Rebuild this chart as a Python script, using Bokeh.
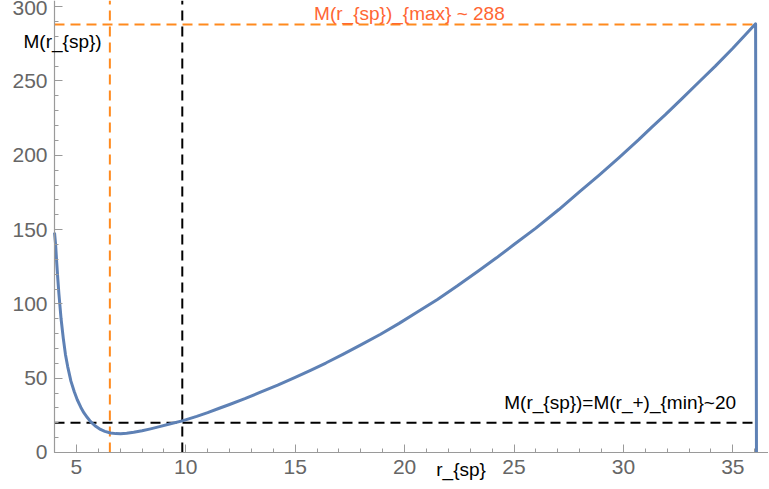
from bokeh.plotting import figure
from bokeh.models import Label, SingleIntervalTicker, Range1d
from bokeh.embed import file_html
from bokeh.resources import INLINE

# ---- data ----
r_sp = [4.0, 4.05, 4.1, 4.15, 4.2, 4.3, 4.4, 4.5, 4.6, 4.75, 4.9, 5.04,
        5.2, 5.34, 5.5, 5.65, 5.85, 6.1, 6.3, 6.56, 6.8, 7.02, 7.3, 7.62,
        8.0, 8.39, 8.8, 9.3, 9.84, 10.5, 11.0, 11.5, 12.0, 12.7, 13.36,
        14.2, 15.0, 15.7, 16.4, 17.2, 18.0, 18.9, 19.75, 20.6, 21.5, 22.4,
        23.4, 24.2, 25.0, 26.0, 27.05, 28.0, 28.88, 29.8, 30.7, 31.3, 31.93,
        32.7, 33.5, 34.2, 35.0, 35.5, 36.04, 36.08]
mass = [148, 140, 128, 117, 107, 90, 77, 66, 58, 48, 41, 35.5,
        30.5, 26.8, 23.5, 20.8, 18.0, 15.5, 14.2, 13.1, 12.7, 12.6, 12.9, 13.6,
        14.6, 15.9, 17.4, 19.3, 21.3, 24.3, 26.8, 29.6, 32.3, 36.2, 40.3,
        45.3, 50.5, 55.3, 60.2, 66.2, 72.4, 79.6, 86.9, 94.7, 103.0, 112.0,
        122.5, 131.0, 140.0, 151.0, 163.5, 175.5, 186.5, 198.5, 210.5, 219.0, 227.5,
        238.5, 250.0, 260.0, 272.0, 280.0, 288.5, 0.0]

r_min_line = 6.53      # orange vertical
r_cross_line = 9.84    # black vertical
m_max = 288            # orange horizontal
m_min = 20             # black horizontal

x_ticks_interval = 5
y_ticks_interval = 50

label_y = "M(r_{sp})"
label_x = "r_{sp}"
label_max = "M(r_{sp})_{max} ~ 288"
label_min = "M(r_{sp})=M(r_+)_{min}~20"

FONT = "Liberation Sans"
AXIS_COL = "#9a9a9a"
TICK_TXT = "#666666"
BLUE = "#5E81B5"
ORANGE = "#FF8A1E"
ORANGE_TXT = "#FF6633"

X0, X1 = 1.532, 36.63
Y0, Y1 = -24.23, 304.17

p = figure(width=768, height=488, output_backend="svg", toolbar_location=None,
           x_range=Range1d(X0, X1), y_range=Range1d(Y0, Y1),
           min_border=0, min_border_left=0, min_border_bottom=0,
           min_border_top=0, min_border_right=0)
p.outline_line_color = None
p.xgrid.visible = False
p.ygrid.visible = False
p.background_fill_color = "white"
p.border_fill_color = "white"

p.xaxis.ticker = SingleIntervalTicker(interval=x_ticks_interval, num_minor_ticks=5)
p.yaxis.ticker = SingleIntervalTicker(interval=y_ticks_interval, num_minor_ticks=5)
p.xaxis.fixed_location = 0
p.yaxis.fixed_location = 4.0
p.xaxis.bounds = (4.0, X1)
p.yaxis.bounds = (0, Y1)
for ax in (p.xaxis, p.yaxis):
    ax.axis_line_color = AXIS_COL
    ax.axis_line_width = 1.2
    ax.major_tick_line_color = AXIS_COL
    ax.minor_tick_line_color = AXIS_COL
    ax.major_tick_in = 8
    ax.major_tick_out = 0
    ax.minor_tick_in = 4
    ax.minor_tick_out = 0
    ax.major_label_text_font = FONT
    ax.major_label_text_font_size = "21px"
    ax.major_label_text_color = TICK_TXT
p.xaxis.major_label_standoff = 8
p.yaxis.major_label_standoff = 7

# reference lines
p.line([r_min_line, r_min_line], [0, Y1], line_color=ORANGE, line_width=2,
       line_dash="10 6")
p.line([r_cross_line, r_cross_line], [0, Y1], line_color="black", line_width=2,
       line_dash="10 6")
p.line([r_sp[0], r_sp[-2]], [m_max, m_max], line_color=ORANGE, line_width=2,
       line_dash="10 6")
p.line([r_sp[0], r_sp[-2]], [m_min, m_min], line_color="black", line_width=2,
       line_dash="10 6")

# curve
p.line(r_sp, mass, line_color=BLUE, line_width=3, line_join="round")

# labels
p.add_layout(Label(x=4.37, y=276.6, text=label_y, text_font=FONT,
                   text_font_size="19px", text_color="black",
                   text_align="center", text_baseline="middle"))
p.add_layout(Label(x=20.22, y=295.4, text=label_max, text_font=FONT,
                   text_font_size="19px", text_color=ORANGE_TXT,
                   text_align="center", text_baseline="middle"))
p.add_layout(Label(x=29.85, y=33.6, text=label_min, text_font=FONT,
                   text_font_size="19px", text_color="black",
                   text_align="center", text_baseline="middle"))
p.add_layout(Label(x=22.58, y=-11.4, text=label_x, text_font=FONT,
                   text_font_size="19px", text_color="black",
                   text_align="center", text_baseline="middle"))

open("out.html", "w").write(file_html(p, INLINE))
